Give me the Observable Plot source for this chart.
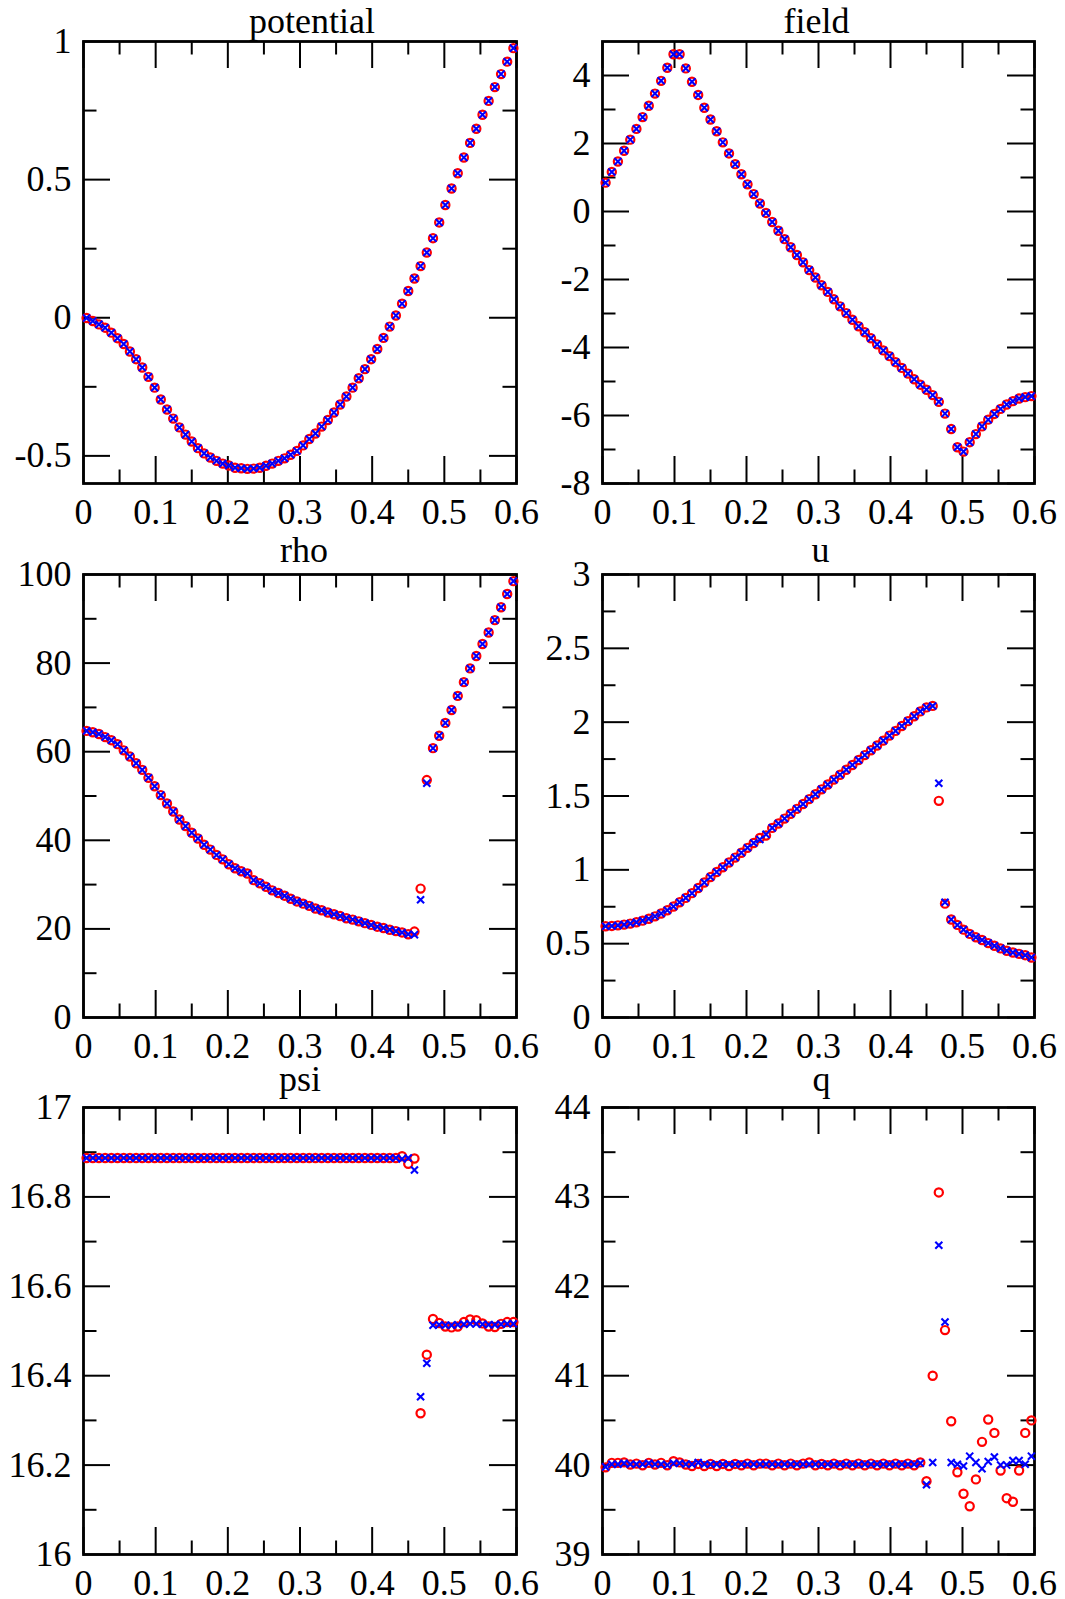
<!DOCTYPE html>
<html><head><meta charset="utf-8">
<script src="https://cdn.jsdelivr.net/npm/d3@7"></script>
<script src="https://cdn.jsdelivr.net/npm/@observablehq/plot@0.6"></script>
<style>
body{margin:0;background:#fff;color:#000;}
#chart{position:relative;width:1065px;height:1599px;background:#fff;font-family:'Liberation Serif','Times New Roman',serif;overflow:hidden;}
#chart svg{position:absolute;}
</style></head><body><div id="chart"></div>
<script>
// x grid (cell centres)
const xs = [0.0043,0.0129,0.0214,0.0300,0.0386,0.0471,0.0557,0.0643,0.0729,0.0814,
0.0900,0.0986,0.1071,0.1157,0.1243,0.1329,0.1414,0.1500,0.1586,0.1671,
0.1757,0.1843,0.1929,0.2014,0.2100,0.2186,0.2271,0.2357,0.2443,0.2529,
0.2614,0.2700,0.2786,0.2871,0.2957,0.3043,0.3129,0.3214,0.3300,0.3386,
0.3471,0.3557,0.3643,0.3729,0.3814,0.3900,0.3986,0.4071,0.4157,0.4243,
0.4329,0.4414,0.4500,0.4586,0.4671,0.4757,0.4843,0.4929,0.5014,0.5100,
0.5186,0.5271,0.5357,0.5443,0.5529,0.5614,0.5700,0.5786,0.5871,0.5957];

const xMajor = [0,0.1,0.2,0.3,0.4,0.5,0.6];
const xMinor = [0.05,0.15,0.25,0.35,0.45,0.55];

// potential
const potentialRed = [-0.001,-0.012,-0.024,-0.036,-0.054,-0.074,-0.095,-0.122,-0.150,-0.180,
-0.214,-0.253,-0.296,-0.332,-0.365,-0.397,-0.423,-0.448,-0.472,-0.491,
-0.506,-0.518,-0.528,-0.535,-0.543,-0.545,-0.547,-0.546,-0.543,-0.536,
-0.528,-0.518,-0.509,-0.496,-0.482,-0.462,-0.439,-0.419,-0.394,-0.370,
-0.343,-0.314,-0.285,-0.253,-0.219,-0.186,-0.150,-0.113,-0.073,-0.032,
0.008,0.051,0.097,0.142,0.187,0.236,0.288,0.345,0.408,0.468,
0.523,0.580,0.633,0.684,0.735,0.785,0.835,0.882,0.927,0.976];
const potentialBlue = [-0.001,-0.012,-0.024,-0.036,-0.054,-0.074,-0.095,-0.122,-0.150,-0.180,
-0.214,-0.253,-0.296,-0.332,-0.365,-0.397,-0.423,-0.448,-0.472,-0.491,
-0.506,-0.518,-0.528,-0.535,-0.543,-0.545,-0.547,-0.546,-0.543,-0.536,
-0.528,-0.518,-0.509,-0.496,-0.482,-0.462,-0.439,-0.419,-0.394,-0.370,
-0.343,-0.314,-0.285,-0.253,-0.219,-0.186,-0.150,-0.113,-0.073,-0.032,
0.008,0.051,0.097,0.142,0.187,0.236,0.288,0.345,0.408,0.468,
0.523,0.580,0.633,0.684,0.735,0.785,0.835,0.882,0.927,0.976];
const potentialYTicks = [-0.5,0,0.5,1];
const potentialYMinor = [-0.25,0.25,0.75];

// field
const fieldRed = [0.848,1.164,1.470,1.787,2.113,2.430,2.776,3.110,3.468,3.843,
4.229,4.624,4.624,4.209,3.814,3.428,3.052,2.706,2.360,2.034,
1.708,1.392,1.095,0.798,0.512,0.235,-0.042,-0.309,-0.566,-0.813,
-1.050,-1.278,-1.495,-1.723,-1.940,-2.168,-2.365,-2.583,-2.790,-2.988,
-3.186,-3.374,-3.552,-3.730,-3.908,-4.086,-4.254,-4.432,-4.600,-4.768,
-4.936,-5.094,-5.242,-5.400,-5.598,-5.944,-6.399,-6.933,-7.062,-6.785,
-6.547,-6.320,-6.122,-5.954,-5.806,-5.677,-5.578,-5.500,-5.460,-5.430];
const fieldBlue = [0.848,1.164,1.470,1.787,2.113,2.430,2.776,3.110,3.468,3.843,
4.229,4.624,4.624,4.209,3.814,3.428,3.052,2.706,2.360,2.034,
1.708,1.392,1.095,0.798,0.512,0.235,-0.042,-0.309,-0.566,-0.813,
-1.050,-1.278,-1.495,-1.723,-1.940,-2.168,-2.365,-2.583,-2.790,-2.988,
-3.186,-3.374,-3.552,-3.730,-3.908,-4.086,-4.254,-4.432,-4.600,-4.768,
-4.936,-5.094,-5.242,-5.400,-5.598,-5.944,-6.399,-6.933,-7.062,-6.785,
-6.547,-6.320,-6.122,-5.954,-5.806,-5.677,-5.578,-5.500,-5.460,-5.430];
const fieldYTicks = [-8,-6,-4,-2,0,2,4];
const fieldYMinor = [-7,-5,-3,-1,1,3];

// rho
const rhoRed = [64.7,64.4,64.0,63.3,62.6,61.7,60.3,58.9,57.4,55.9,
54.1,52.2,50.2,48.3,46.5,44.7,43.2,41.7,40.4,39.0,
37.9,36.7,35.7,34.6,33.7,33.0,32.5,31.0,30.3,29.5,
28.7,28.1,27.5,26.8,26.2,25.7,25.2,24.6,24.2,23.7,
23.3,22.9,22.4,22.1,21.7,21.3,20.9,20.5,20.2,19.8,
19.5,19.2,18.8,19.4,29.1,53.6,60.8,63.6,66.5,69.4,
72.6,75.7,78.8,81.6,84.3,86.9,89.7,92.6,95.6,98.5];
const rhoBlue = [64.7,64.4,64.0,63.3,62.6,61.7,60.3,58.9,57.4,55.9,
54.1,52.2,50.2,48.3,46.5,44.7,43.2,41.7,40.4,39.0,
37.9,36.7,35.7,34.6,33.7,33.0,32.5,31.0,30.3,29.5,
28.7,28.1,27.5,26.8,26.2,25.7,25.2,24.6,24.2,23.7,
23.3,22.9,22.4,22.1,21.7,21.3,20.9,20.5,20.2,19.8,
19.5,19.2,18.8,18.7,26.6,52.9,60.8,63.6,66.5,69.4,
72.6,75.7,78.8,81.6,84.3,86.9,89.7,92.6,95.6,98.5];
const rhoYTicks = [0,20,40,60,80,100];
const rhoYMinor = [10,30,50,70,90];

// u
const uRed = [0.618,0.620,0.624,0.629,0.636,0.645,0.656,0.669,0.685,0.704,
0.726,0.752,0.780,0.810,0.842,0.877,0.914,0.951,0.985,1.017,
1.050,1.083,1.116,1.149,1.182,1.216,1.232,1.284,1.314,1.347,
1.380,1.413,1.446,1.479,1.512,1.545,1.578,1.611,1.644,1.678,
1.710,1.744,1.777,1.810,1.842,1.875,1.909,1.941,1.974,2.007,
2.040,2.073,2.100,2.110,1.467,0.771,0.664,0.627,0.595,0.566,
0.543,0.525,0.504,0.486,0.468,0.452,0.440,0.431,0.422,0.406];
const uBlue = [0.618,0.620,0.624,0.629,0.636,0.645,0.656,0.669,0.685,0.704,
0.726,0.752,0.780,0.810,0.842,0.877,0.914,0.951,0.985,1.017,
1.050,1.083,1.116,1.149,1.182,1.205,1.240,1.284,1.314,1.347,
1.380,1.413,1.446,1.479,1.512,1.545,1.578,1.611,1.644,1.678,
1.710,1.744,1.777,1.810,1.842,1.875,1.909,1.941,1.974,2.007,
2.040,2.073,2.100,2.110,1.586,0.780,0.664,0.627,0.595,0.566,
0.543,0.525,0.504,0.486,0.468,0.452,0.440,0.431,0.422,0.406];
const uYTicks = [0,0.5,1,1.5,2,2.5,3];
const uYMinor = [0.25,0.75,1.25,1.75,2.25,2.75];

// psi
const psiRed = [16.887,16.887,16.887,16.887,16.887,16.887,16.887,16.887,16.887,16.887,
16.887,16.887,16.887,16.887,16.887,16.887,16.887,16.887,16.887,16.887,
16.887,16.887,16.887,16.887,16.887,16.887,16.887,16.887,16.887,16.887,
16.887,16.887,16.887,16.887,16.887,16.887,16.887,16.887,16.887,16.887,
16.887,16.887,16.887,16.887,16.887,16.887,16.887,16.887,16.887,16.887,
16.887,16.891,16.874,16.886,16.316,16.447,16.527,16.518,16.510,16.508,
16.510,16.520,16.526,16.524,16.517,16.510,16.509,16.516,16.520,16.520];
const psiBlue = [16.887,16.887,16.887,16.887,16.887,16.887,16.887,16.887,16.887,16.887,
16.887,16.887,16.887,16.887,16.887,16.887,16.887,16.887,16.887,16.887,
16.887,16.887,16.887,16.887,16.887,16.887,16.887,16.887,16.887,16.887,
16.887,16.887,16.887,16.887,16.887,16.887,16.887,16.887,16.887,16.887,
16.887,16.887,16.887,16.887,16.887,16.887,16.887,16.887,16.887,16.887,
16.887,16.885,16.887,16.860,16.353,16.428,16.513,16.514,16.513,16.513,
16.514,16.515,16.516,16.516,16.515,16.514,16.514,16.515,16.516,16.516];
const psiYTicks = [16,16.2,16.4,16.6,16.8,17];
const psiYMinor = [16.1,16.3,16.5,16.7,16.9];

// q
const qRed = [39.975,40.025,40.025,40.030,40.006,40.017,39.998,40.025,40.006,40.025,
39.998,40.044,40.030,40.006,39.990,40.013,39.990,40.013,39.990,40.013,
39.990,40.013,39.998,40.017,39.998,40.017,40.017,39.998,40.017,39.998,
40.017,39.998,40.017,40.030,39.998,40.013,39.998,40.017,39.998,40.017,
39.998,40.017,39.998,40.017,39.998,40.017,39.998,40.017,39.998,40.017,
39.998,40.030,39.82,41.00,43.05,41.51,40.49,39.92,39.68,39.54,
39.84,40.26,40.51,40.36,39.94,39.63,39.59,39.94,40.36,40.50];
const qBlue = [39.98,40.01,40.01,40.02,40.01,40.01,40.01,40.02,40.01,40.01,
40.00,40.02,40.02,40.01,40.01,40.03,40.01,40.01,40.01,40.01,
40.01,40.01,40.01,40.01,40.01,40.01,40.01,40.01,40.01,40.01,
40.01,40.01,40.01,40.01,40.01,40.01,40.01,40.01,40.01,40.01,
40.01,40.01,40.01,40.01,40.01,40.01,40.01,40.01,40.01,40.01,
40.01,40.02,39.78,40.03,42.46,41.60,40.03,40.01,39.99,40.10,
40.03,39.96,40.04,40.09,40.00,40.00,40.05,40.05,40.01,40.10];
const qYTicks = [39,40,41,42,43,44];
const qYMinor = [39.5,40.5,41.5,42.5,43.5];

const titles = ["potential","field","rho","u","psi","q"];

// layout (frames in page pixels)
const panels = [
  {title:titles[0], red:potentialRed, blue:potentialBlue, yDomain:[-0.6,1], yMajor:potentialYTicks, yMinor:potentialYMinor, left:83, top:41, w:433, h:442, dx:12, gap:9},
  {title:titles[1], red:fieldRed, blue:fieldBlue, yDomain:[-8,5], yMajor:fieldYTicks, yMinor:fieldYMinor, left:602, top:41, w:432, h:442, dx:-2, gap:9},
  {title:titles[2], red:rhoRed, blue:rhoBlue, yDomain:[0,100], yMajor:rhoYTicks, yMinor:rhoYMinor, left:83, top:574, w:433, h:443, dx:4, gap:13},
  {title:titles[3], red:uRed, blue:uBlue, yDomain:[0,3], yMajor:uYTicks, yMinor:uYMinor, left:602, top:574, w:432, h:443, dx:2, gap:13},
  {title:titles[4], red:psiRed, blue:psiBlue, yDomain:[16,17], yMajor:psiYTicks, yMinor:psiYMinor, left:83, top:1107, w:433, h:447, dx:0, gap:17},
  {title:titles[5], red:qRed, blue:qBlue, yDomain:[39,44], yMajor:qYTicks, yMinor:qYMinor, left:602, top:1107, w:432, h:447, dx:3, gap:17}
];

const chart = document.getElementById("chart");
const ML = 80, MR = 30, MT = 40, MB = 50;
const MAJ = 27, MIN = 13.5;
const fmt = d => String(d);
const font = "'Liberation Serif','Times New Roman',serif";

for (const cfg of panels) {
  const W = cfg.w, H = cfg.h;
  const red = xs.map((x, i) => ({x, y: cfg.red[i]}));
  const blue = xs.map((x, i) => ({x, y: cfg.blue[i]}));
  const tk = {stroke: "#000", strokeWidth: 2};
  const svg = Plot.plot({
    width: ML + W + MR, height: MT + H + MB,
    marginLeft: ML, marginRight: MR, marginTop: MT, marginBottom: MB,
    style: {background: "transparent", overflow: "visible", fontFamily: font, fontSize: "36px", color: "#000"},
    x: {domain: [0, 0.6], label: null},
    y: {domain: cfg.yDomain, label: null},
    marks: [
      Plot.ruleX(xMajor, {...tk, insetTop: H - MAJ}),
      Plot.ruleX(xMajor, {...tk, insetBottom: H - MAJ}),
      Plot.ruleX(xMinor, {...tk, insetTop: H - MIN}),
      Plot.ruleX(xMinor, {...tk, insetBottom: H - MIN}),
      Plot.ruleY(cfg.yMajor, {...tk, insetRight: W - MAJ}),
      Plot.ruleY(cfg.yMajor, {...tk, insetLeft: W - MAJ}),
      Plot.ruleY(cfg.yMinor, {...tk, insetRight: W - MIN}),
      Plot.ruleY(cfg.yMinor, {...tk, insetLeft: W - MIN}),
      Plot.frame({stroke: "#000", strokeWidth: 2.8}),
      Plot.axisX({ticks: xMajor, tickSize: 0, tickPadding: 15, tickFormat: fmt, fontSize: 36, label: null}),
      Plot.axisY({ticks: cfg.yMajor, tickSize: 0, tickPadding: 12, tickFormat: fmt, fontSize: 36, label: null}),
      Plot.dot(red, {x: "x", y: "y", r: 4.1, stroke: "#ff0000", strokeWidth: 2.2, fill: "none"}),
      Plot.dot(blue, {x: "x", y: "y", r: 3.3, symbol: "times", stroke: "#0000ff", strokeWidth: 2.1}),
      Plot.text([cfg.title], {frameAnchor: "top", lineAnchor: "bottom", dy: -cfg.gap, dx: cfg.dx, fontSize: 36, fill: "#000"})
    ]
  });
  svg.style.left = (cfg.left - ML) + "px";
  svg.style.top = (cfg.top - MT) + "px";
  chart.appendChild(svg);
}
</script></body></html>
